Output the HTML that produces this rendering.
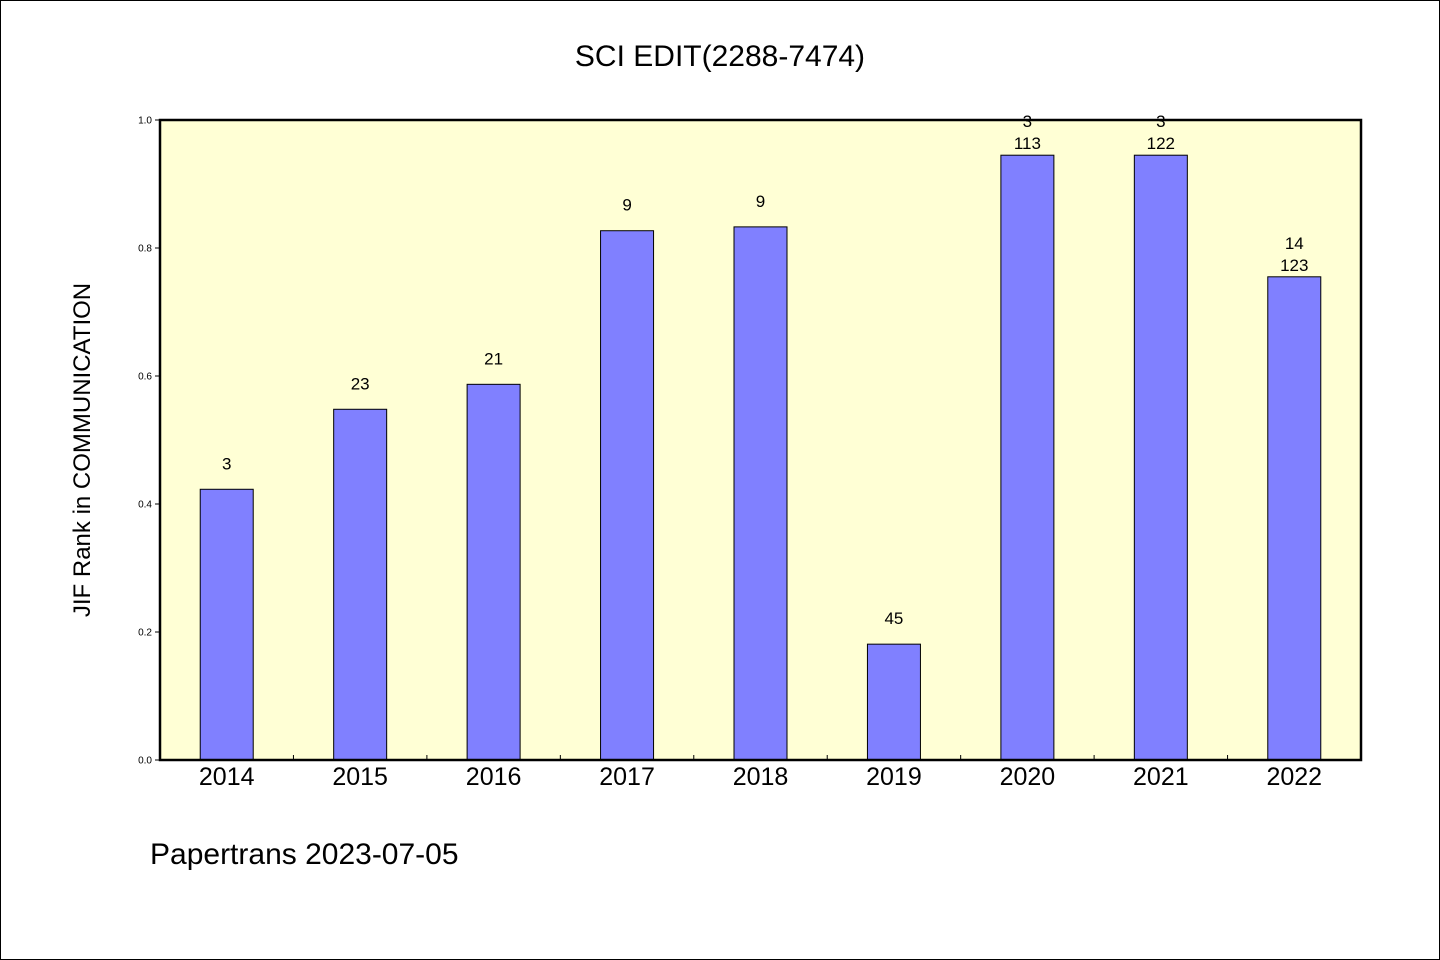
<!DOCTYPE html>
<html><head><meta charset="utf-8"><style>
html,body{margin:0;padding:0;background:#fff}
svg{display:block;font-family:"Liberation Sans","WenQuanYi Zen Hei",sans-serif}
</style></head><body>
<svg id="chart" width="1440" height="960">
<rect x="0.5" y="0.5" width="1439" height="959" fill="#fff" stroke="#000"/>
<text x="720" y="66" font-size="30" text-anchor="middle">SCI EDIT(2288-7474)</text>
<rect x="160" y="120" width="1201" height="640" fill="#ffffd5"/>
<g id="bars"></g><g id="ticks"></g>
<rect x="160" y="120" width="1201" height="640" fill="none" stroke="#000" stroke-width="2.5"/>
<text transform="translate(90,450) rotate(-90)" font-size="24" text-anchor="middle">JIF Rank in COMMUNICATION</text>
<text x="150" y="864" font-size="30">Papertrans 2023-07-05</text>
</svg>
<script>
const categories=["2014","2015","2016","2017","2018","2019","2020","2021","2022"];
const values=[0.423,0.548,0.587,0.827,0.833,0.181,0.945,0.945,0.755];
const labelTop=["3","23","21","9","9","45","3","3","14"];
const labelBottom=["","","","","","","113","122","123"];
const yTicks=[0,0.2,0.4,0.6,0.8,1.0];
const NS="http://www.w3.org/2000/svg";
const X0=160,X1=1361,Y0=760,Y1=120;
const step=(X1-X0)/categories.length;
const xc=i=>X0+step*(i+0.5);
const y=v=>Y0-(Y0-Y1)*v;
function mk(t,a,p){const e=document.createElementNS(NS,t);for(const k in a)e.setAttribute(k,a[k]);p.appendChild(e);return e;}
const gb=document.getElementById('bars'),gt=document.getElementById('ticks');
categories.forEach((c,i)=>{
 const r=mk('rect',{x:xc(i)-26.5,y:y(values[i]),width:53,height:Y0-y(values[i]),fill:'#8080ff',stroke:'#000','stroke-width':1},gb);
 
 
 const two=labelBottom[i]!=="";
 const t1=mk('text',{x:xc(i),y:y(values[i])-(two?28:20),'font-size':17,'text-anchor':'middle'},gb);
 t1.textContent=labelTop[i];
 
 
 if(two){const t2=mk('text',{x:xc(i),y:y(values[i])-6,'font-size':17,'text-anchor':'middle'},gb);
 t2.textContent=labelBottom[i];
 
 }
 const xl=mk('text',{x:xc(i),y:785,'font-size':25,'text-anchor':'middle'},gt);
 xl.textContent=c;
 
 
 if(i>0){const tk=mk('line',{x1:X0+step*i,x2:X0+step*i,y1:Y0,y2:Y0-5,stroke:'#000'},gt);
 
 }
});
yTicks.forEach(v=>{
 const l=mk('line',{x1:X0-5,x2:X0,y1:y(v),y2:y(v),stroke:'#000'},gt);
 
 
 const t=mk('text',{x:X0-8,y:y(v)+3.5,'font-size':10,'text-anchor':'end'},gt);
 t.textContent=v.toFixed(1);
 
 
});
</script>
</body></html>
